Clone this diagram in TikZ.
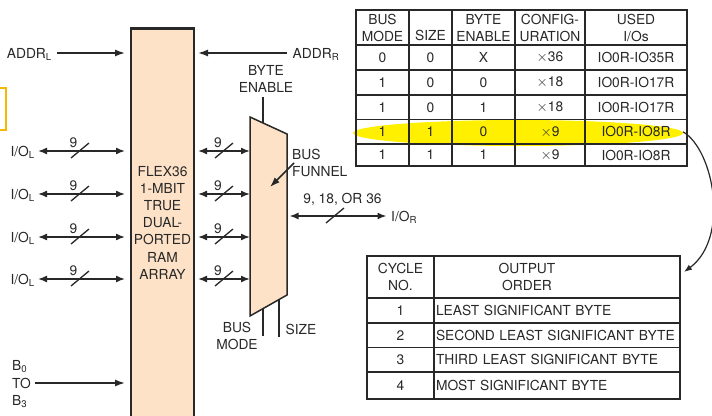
\documentclass[tikz,border=0pt]{standalone}
\usepackage{fontspec}
\setmainfont{TeX Gyre Heros}
\usetikzlibrary{arrows.meta,positioning,calc}
\definecolor{ink}{RGB}{40,40,40}
\definecolor{peach}{RGB}{253,226,199}
\definecolor{hilite}{RGB}{255,240,0}
\definecolor{marker}{RGB}{246,184,0}
\newcommand{\lsub}[1]{\textsubscript{#1}}

\begin{document}
\begin{tikzpicture}[x=1pt, y=-1pt, font=\fontsize{13.8}{17}\selectfont, text=ink,
    lbl/.style={inner sep=1.5pt, text height=10pt, text depth=0pt},
    blk/.style={inner sep=1.5pt, align=center},
    arr/.style={draw=ink, line width=1.5pt, -{Latex[length=10pt,width=7pt]}},
    dbl/.style={draw=ink, line width=1.5pt, {Latex[length=9pt,width=7pt]}-{Latex[length=9pt,width=7pt]}},
    ln/.style={draw=ink, line width=1.5pt},
    tick/.style={draw=ink, line width=1.3pt},
    cell/.style={draw=ink, line width=1.2pt, inner sep=0pt, outer sep=0pt, align=center}]
  \useasboundingbox (0,0) rectangle (712,415);
  \clip (0,0) rectangle (712,415);

  % marker at the left edge
  \draw[marker, line width=2pt] (-10,88) rectangle (6,130);

  % RAM block
  \node[draw=ink, fill=peach, line width=2.5pt, minimum width=63, minimum height=420, anchor=north]
    (ram) at (162.5,27) {};
  \node[blk, font=\fontsize{13.8}{17.2}\selectfont] (ramtxt) at (162.5,222.6)
    {FLEX36\\1-MBIT\\TRUE\\DUAL-\\PORTED\\RAM\\ARRAY};

  % bus funnel
  \coordinate (fTL) at (250,117);
  \coordinate (fTR) at (287,134);
  \coordinate (fBR) at (287,295);
  \coordinate (fBL) at (250,316);
  \coordinate (fIn) at (270,187);
  \coordinate (beTop) at ($(fTL)!0.35!(fTR)$);
  \coordinate (bmTop) at ($(fBL)!0.35!(fBR)$);
  \coordinate (szTop) at ($(fBL)!0.78!(fBR)$);
  \draw[ink, fill=peach, line width=1.5pt] (fTL) -- (fTR) -- (fBR) -- (fBL) -- cycle;

  % address inputs
  \node[lbl, anchor=east] (addrL) at (53.5,53) {ADDR\lsub{L}};
  \draw[arr, shorten <=3.5pt, shorten >=4.75pt] (addrL.east) -- (addrL.east -| ram.west);
  \node[lbl, anchor=west] (addrR) at (291,53) {ADDR\lsub{R}};
  \draw[arr, shorten <=4.5pt, shorten >=2.75pt] (addrR.west) -- (addrR.west -| ram.east);

  % I/O ports
  \foreach \y [count=\i] in {151,194,237,279} {
    \node[lbl, anchor=east] (iol\i) at (36.5,\y) {I/O\lsub{L}};
    \draw[dbl, shorten <=1.5pt, shorten >=4.75pt] (iol\i.east) -- (iol\i.east -| ram.west);
    \draw[tick] (80,\y) +(-9,7) -- +(9,-8);
    \node[lbl] (nl\i) at (73.5,\y-9) {9};
    \draw[dbl, shorten <=2.75pt] (iol\i.east -| ram.east) -- (iol\i.east -| fTL);
    \draw[tick] (224,\y) +(-9,7) -- +(9,-8);
    \node[lbl] (nr\i) at (218,\y-9) {9};
  }

  % funnel controls and output
  \node[blk] (be) at (266,78.5) {BYTE\\ENABLE};
  \draw[ln, shorten >=3.5pt] (beTop) -- (beTop |- be.south);
  \node[blk] (bm) at (237,335.5) {BUS\\MODE};
  \draw[ln] (bmTop) -- (bmTop |- bm);
  \node[lbl, anchor=west] (sz) at (284,329) {SIZE};
  \draw[ln, shorten >=-1.5pt] (szTop) -- (szTop |- sz.south);
  \node[blk, anchor=west, align=left] (bf) at (290.5,163) {BUS\\FUNNEL};
  \draw[arr] ([xshift=3.5pt]bf.west) -- (fIn);
  \node[lbl, anchor=west] (ior) at (389.5,216) {I/O\lsub{R}};
  \draw[dbl, shorten <=2.5pt, shorten >=3pt] (ior.west -| fTR) -- (ior.west);
  \draw[tick] (335,216) +(-9,7) -- +(9,-8);
  \node[lbl] (width) at (342.5,198) {9, 18, OR 36};

  % byte select
  \node[blk, anchor=west, align=left, font=\fontsize{13.8}{17.5}\selectfont] (b03) at (10.5,384.3)
    {B\lsub{0}\\TO\\B\lsub{3}};
  \draw[arr, shorten <=2.3pt, shorten >=4.75pt] ([yshift=1.3pt]b03.east) -- ([yshift=1.3pt]b03.east -| ram.west);

  % configuration table
  \fill[hilite] (518,133) ellipse [x radius=165pt, y radius=13pt];
  \node[cell, minimum width=53, minimum height=35] (h1) at (382.5,27.5) {BUS\\MODE};
  \node[cell, minimum width=43, minimum height=35] (h2) at (430.5,27.5) {\vphantom{B}\\SIZE};
  \node[cell, minimum width=63, minimum height=35] (h3) at (483.5,27.5) {BYTE\\ENABLE};
  \node[cell, minimum width=70, minimum height=35] (h4) at (550,27.5) {CONFIG-\\URATION};
  \node[cell, minimum width=102, minimum height=35] (h5) at (636,27.5) {USED\\I/Os};
  \foreach \n/\yt/\yb/\a/\b/\c/\d/\e in {1/45/70/0/0/X/36/IO0R-IO35R,
      2/70/95/1/0/0/18/IO0R-IO17R, 3/95/119.5/1/0/1/18/IO0R-IO17R,
      4/119.5/144/1/1/0/9/IO0R-IO8R, 5/144/166/1/1/1/9/IO0R-IO8R} {
    \node[cell, minimum width=53, minimum height=\yb-\yt] (r\n-a) at (382.5,{(\yt+\yb)/2}) {\a};
    \node[cell, minimum width=43, minimum height=\yb-\yt] (r\n-b) at (430.5,{(\yt+\yb)/2}) {\b};
    \node[cell, minimum width=63, minimum height=\yb-\yt] (r\n-c) at (483.5,{(\yt+\yb)/2}) {\c};
    \node[cell, minimum width=70, minimum height=\yb-\yt] (r\n-d) at (550,{(\yt+\yb)/2}) {$\times$\d};
    \node[cell, minimum width=102, minimum height=\yb-\yt] (r\n-e) at (636,{(\yt+\yb)/2}) {\e};
  }
  \draw[ink, line width=1.8pt] (h1.north west) rectangle (r5-e.south east);

  % output order table
  \node[cell, minimum width=67, minimum height=42] (c1) at (400.5,277) {CYCLE\\NO.};
  \node[cell, minimum width=246, minimum height=42] (c2) at (557,277) {};
  \node[blk] (ordtxt) at (527,277) {OUTPUT\\ORDER};
  \foreach \n/\yt/\yb/\t in {1/298/323/LEAST SIGNIFICANT BYTE,
      2/323/347.5/SECOND LEAST SIGNIFICANT BYTE, 3/347.5/372/THIRD LEAST SIGNIFICANT BYTE,
      4/372/399/MOST SIGNIFICANT BYTE} {
    \node[cell, minimum width=67, minimum height=\yb-\yt] (q\n-a) at (400.5,{(\yt+\yb)/2}) {\n};
    \node[cell, minimum width=246, minimum height=\yb-\yt, text width=242pt, align=left]
      (q\n-b) at (557,{(\yt+\yb)/2}) {\t};
  }
  \draw[ink, line width=1.8pt] (c1.north west) rectangle (q4-b.south east);

  % link from the x9 row
  \draw[ink, line width=1.2pt, -{Latex[length=8pt,width=6pt]}] ([xshift=-4pt]r4-e.east)
    .. controls (714,150) and (730,238) .. ([xshift=4pt,yshift=5pt]c2.east);
\end{tikzpicture}
\end{document}
